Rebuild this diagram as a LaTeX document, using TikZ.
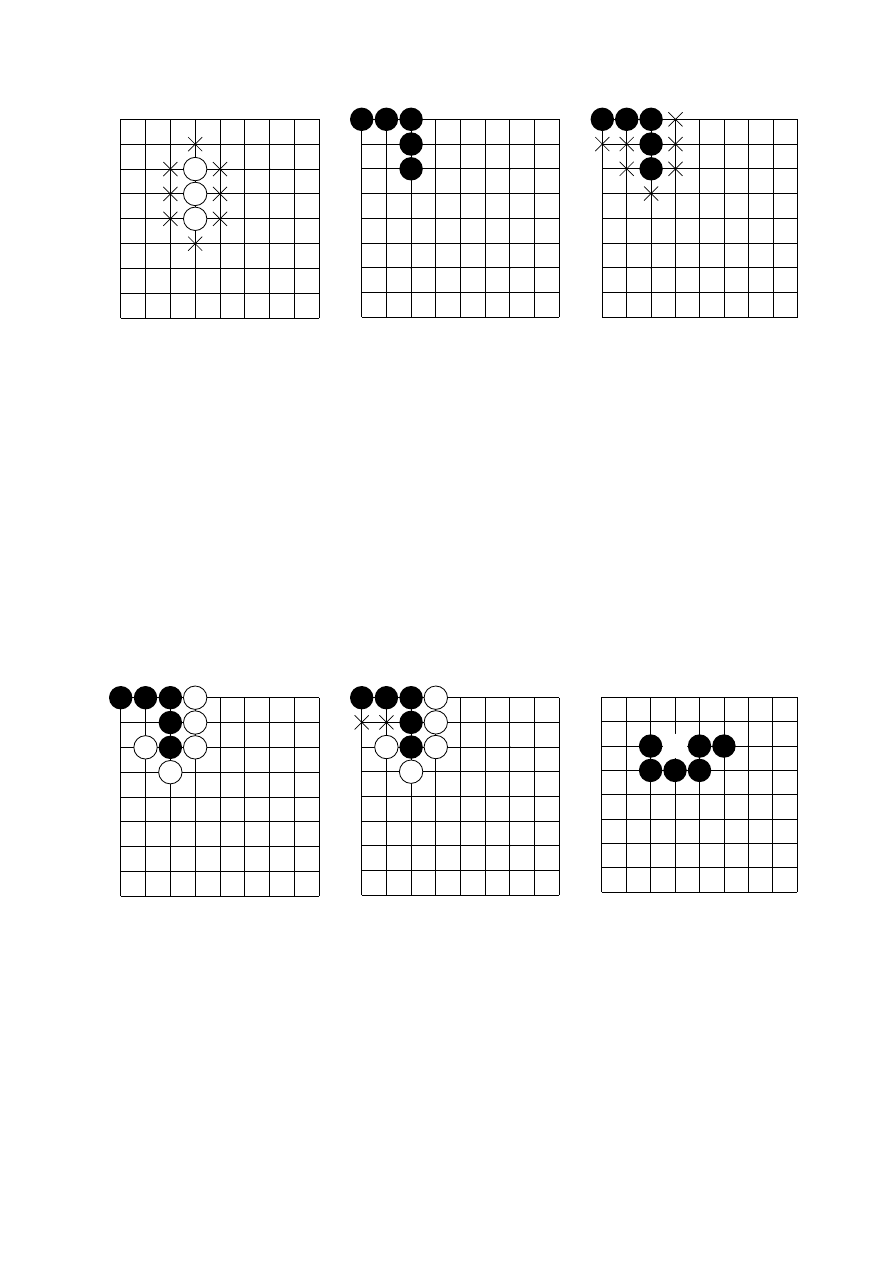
\documentclass[tikz,border=0pt]{standalone}
\begin{document}
\begin{tikzpicture}[x=0.6667pt,y=-0.6667pt,
  gridline/.style={line width=0.6pt,black},
  hoshi/.style={fill=black},
  blackstone/.style={fill=black},
  whitestone/.style={fill=white,draw=black,line width=0.55pt},
  blankstone/.style={fill=white},
  xmark/.style={line width=0.45pt,black}]
\useasboundingbox[fill=white] (0,0) rectangle (893,1263);
% \goboard{left}{top}{right}{bottom}{contents}
\newcommand{\goboard}[5]{%
  \begin{scope}[shift={(#1,#2)}]
  \pgfmathsetmacro{\cw}{((#3)-(#1))*0.6667}%
  \pgfmathsetmacro{\ch}{((#4)-(#2))*0.6667}%
  \begin{scope}[x=\cw pt/8, y=-\ch pt/8]
    \foreach \i in {0,...,8}{%
      \draw[gridline] (\i,0) -- (\i,8);
      \draw[gridline] (0,\i) -- (8,\i);
    }
    \foreach \p in {(2,2),(6,2),(2,6),(6,6)}{\fill[hoshi] \p circle[radius=0.55pt];}
    #5
  \end{scope}
  \end{scope}}
\newcommand{\bst}[2]{\fill[blackstone] (#1,#2) circle[radius=7.8pt];}
\newcommand{\wst}[2]{\filldraw[whitestone] (#1,#2) circle[radius=7.8pt];}
\newcommand{\xm}[2]{\draw[xmark] (#1,#2) ++(-4.7pt,-4.7pt) -- ++(9.4pt,9.4pt) (#1,#2) ++(-4.7pt,4.7pt) -- ++(9.4pt,-9.4pt);}
% Board 1
\goboard{120.7}{119.3}{319.3}{318.3}{%
  \wst{3}{2}\wst{3}{3}\wst{3}{4}
  \xm{3}{1}\xm{2}{2}\xm{4}{2}\xm{2}{3}\xm{4}{3}\xm{2}{4}\xm{4}{4}\xm{3}{5}}
% Board 2
\goboard{361.7}{119.3}{559.3}{317.3}{%
  \bst{0}{0}\bst{1}{0}\bst{2}{0}\bst{2}{1}\bst{2}{2}}
% Board 3
\goboard{602.3}{119.3}{797.5}{317.3}{%
  \bst{0}{0}\bst{1}{0}\bst{2}{0}\bst{2}{1}\bst{2}{2}
  \xm{3}{0}\xm{0}{1}\xm{1}{1}\xm{3}{1}\xm{1}{2}\xm{3}{2}\xm{2}{3}}
% Board 4
\goboard{120.7}{697.7}{319.3}{896.3}{%
  \bst{0}{0}\bst{1}{0}\bst{2}{0}\wst{3}{0}
  \bst{2}{1}\wst{3}{1}
  \wst{1}{2}\bst{2}{2}\wst{3}{2}
  \wst{2}{3}}
% Board 5
\goboard{361.7}{697.7}{559.3}{895.0}{%
  \bst{0}{0}\bst{1}{0}\bst{2}{0}\wst{3}{0}
  \bst{2}{1}\wst{3}{1}
  \wst{1}{2}\bst{2}{2}\wst{3}{2}
  \wst{2}{3}
  \xm{0}{1}\xm{1}{1}}
% Board 6
\goboard{601.7}{697.3}{797.3}{892.3}{%
  \fill[blankstone] (3,2) circle[radius=0.5];
  \bst{2}{2}\bst{4}{2}\bst{5}{2}
  \bst{2}{3}\bst{3}{3}\bst{4}{3}}
\end{tikzpicture}
\end{document}
